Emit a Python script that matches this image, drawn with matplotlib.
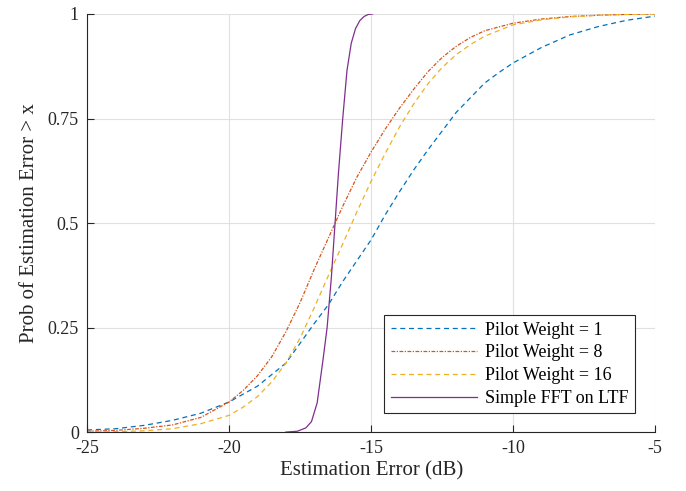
import matplotlib
matplotlib.use('Agg')
from matplotlib import pyplot as plt

# estimation error (dB) and probability values
pw1_x = [-25, -24, -23, -22, -21, -20, -19, -18, -17, -16.5, -16, -15.5, -15, -14.5,
         -14, -13.5, -13, -12.5, -12, -11.5, -11, -10.5, -10, -9, -8, -7, -6, -5]
pw1_y = [0.005, 0.008, 0.016, 0.028, 0.045, 0.072, 0.11, 0.165, 0.26, 0.305, 0.36, 0.41,
         0.46, 0.52, 0.575, 0.627, 0.675, 0.72, 0.765, 0.80, 0.835, 0.86, 0.883, 0.92,
         0.95, 0.97, 0.985, 0.995]

pw8_x = [-25, -24, -23, -22, -21, -20, -19.5, -19, -18.5, -18, -17.5, -17, -16.5, -16,
         -15.5, -15, -14.5, -14, -13.5, -13, -12.5, -12, -11.5, -11, -10, -9, -8, -7, -6, -5]
pw8_y = [0.002, 0.004, 0.009, 0.017, 0.035, 0.072, 0.10, 0.135, 0.18, 0.24, 0.31, 0.39,
         0.465, 0.54, 0.61, 0.67, 0.725, 0.775, 0.82, 0.862, 0.896, 0.923, 0.944, 0.96,
         0.978, 0.988, 0.994, 0.997, 0.999, 1.0]

pw16_x = [-25, -24, -23, -22, -21, -20, -19.5, -19, -18.5, -18, -17.5, -17, -16.5, -16,
          -15.5, -15, -14.5, -14, -13.5, -13, -12.5, -12, -11.5, -11, -10, -9, -8, -7, -6, -5]
pw16_y = [0.0, 0.001, 0.003, 0.008, 0.02, 0.04, 0.06, 0.085, 0.12, 0.165, 0.225, 0.298,
          0.375, 0.45, 0.527, 0.6, 0.667, 0.73, 0.785, 0.833, 0.872, 0.903, 0.927, 0.947,
          0.974, 0.986, 0.993, 0.997, 0.999, 1.0]

fft_x = [-18.0, -17.6, -17.3, -17.1, -16.9, -16.8, -16.7, -16.55, -16.4, -16.27, -16.15,
         -16.0, -15.85, -15.7, -15.55, -15.4, -15.25, -15.1, -14.95]
fft_y = [0.0, 0.002, 0.01, 0.025, 0.07, 0.12, 0.17, 0.25, 0.37, 0.5, 0.62, 0.75, 0.865,
         0.93, 0.965, 0.984, 0.994, 0.999, 1.0]

labels = ['Pilot Weight = 1', 'Pilot Weight = 8', 'Pilot Weight = 16', 'Simple FFT on LTF']
x_ticks = [-25, -20, -15, -10, -5]
y_ticks = [0, 0.25, 0.5, 0.75, 1]
y_ticklabels = ['0', '0.25', '0.5', '0.75', '1']

plt.rcParams['font.family'] = ['Liberation Serif', 'DejaVu Serif']
plt.rcParams['axes.unicode_minus'] = False

fig = plt.figure(figsize=(6.86, 4.91), dpi=100)
ax = fig.add_axes([0.127, 0.12, 0.828, 0.8515])

ax.plot(pw1_x, pw1_y, color='#0072BD', lw=0.9, dashes=(4, 3), label=labels[0])
ax.plot(pw8_x, pw8_y, color='#D95319', lw=0.9, dashes=(3, 1.2, 1, 1.2), label=labels[1])
ax.plot(pw16_x, pw16_y, color='#EDB120', lw=0.9, dashes=(4, 3), label=labels[2])
ax.plot(fft_x, fft_y, color='#7E2F8E', lw=0.9, label=labels[3])

ax.set_xlim(-25, -5)
ax.set_ylim(0, 1)
ax.set_xticks(x_ticks)
ax.set_yticks(y_ticks)
ax.set_yticklabels(y_ticklabels)
ax.grid(True, color='#e0e0e0', lw=0.8)
ax.set_axisbelow(True)
ax.spines['top'].set_visible(False)
ax.spines['right'].set_visible(False)
for s in ['left', 'bottom']:
    ax.spines[s].set_color('#262626')
    ax.spines[s].set_linewidth(0.8)
ax.tick_params(direction='in', length=5, labelsize=13, colors='#262626', pad=6)

ax.set_xlabel('Estimation Error (dB)', fontsize=15, color='#262626', labelpad=3)
ax.set_ylabel('Prob of Estimation Error > x', fontsize=15, color='#262626', labelpad=6)

leg = ax.legend(loc='lower right', bbox_to_anchor=(0.965, 0.045), fontsize=13,
                fancybox=False, framealpha=1, edgecolor='#262626', handlelength=4.8,
                borderpad=0.35, labelspacing=0.32, handletextpad=0.45, borderaxespad=0)
leg.get_frame().set_linewidth(0.8)

fig.savefig('out.png', dpi=100)
